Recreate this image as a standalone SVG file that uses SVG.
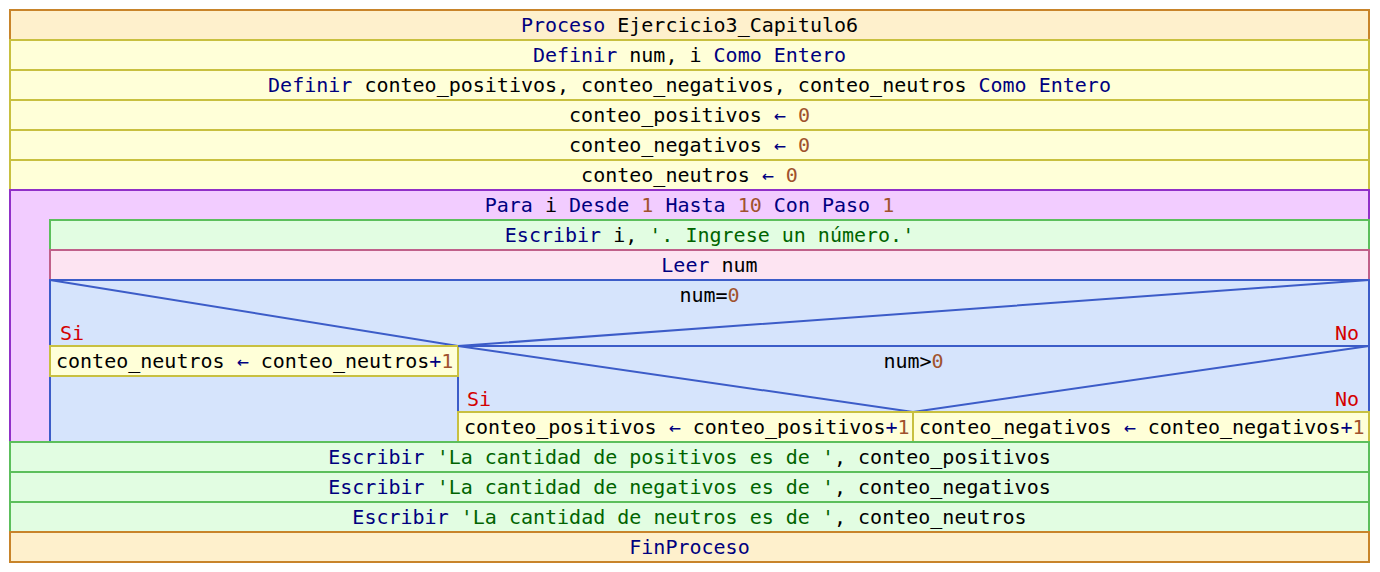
<svg xmlns="http://www.w3.org/2000/svg" width="1380" height="572" viewBox="0 0 1380 572">
<style>
text{font-family:"DejaVu Sans Mono","Liberation Mono",monospace;font-size:20px;fill:#000}
.c{text-anchor:middle}
.k{fill:#00007f}
.n{fill:#a0522d}
.s{fill:#006400}
.r{fill:#d40000}
.proc{fill:#fef0cc;stroke:#c8842a;stroke-width:2}
.asg{fill:#ffffd8;stroke:#c8c040;stroke-width:2}
.para{fill:#f2ccff;stroke:#9030c8;stroke-width:2}
.esc{fill:#e2fde2;stroke:#5cbf5c;stroke-width:2}
.leer{fill:#fde4f2;stroke:#c0608a;stroke-width:2}
.si{fill:#d6e4fc;stroke:#3c5cc8;stroke-width:2}
.dg{stroke:#3c5cc8;stroke-width:2;fill:none}
</style>
<g id="n1"><rect class="proc" x="10" y="10" width="1359" height="30"/><text class="c" x="689.5" y="32"><tspan class="k">Proceso</tspan> Ejercicio3_Capitulo6</text></g>
<g id="n2"><rect class="asg" x="10" y="40" width="1359" height="30"/><text class="c" x="689.5" y="62"><tspan class="k">Definir</tspan> num, i <tspan class="k">Como Entero</tspan></text></g>
<g id="n3"><rect class="asg" x="10" y="70" width="1359" height="30"/><text class="c" x="689.5" y="92"><tspan class="k">Definir</tspan> conteo_positivos, conteo_negativos, conteo_neutros <tspan class="k">Como Entero</tspan></text></g>
<g id="n4"><rect class="asg" x="10" y="100" width="1359" height="30"/><text class="c" x="689.5" y="122">conteo_positivos <tspan class="k">←</tspan> <tspan class="n">0</tspan></text></g>
<g id="n5"><rect class="asg" x="10" y="130" width="1359" height="30"/><text class="c" x="689.5" y="152">conteo_negativos <tspan class="k">←</tspan> <tspan class="n">0</tspan></text></g>
<g id="n6"><rect class="asg" x="10" y="160" width="1359" height="30"/><text class="c" x="689.5" y="182">conteo_neutros <tspan class="k">←</tspan> <tspan class="n">0</tspan></text></g>
<g id="n7"><rect class="para" x="10" y="190" width="1359" height="252"/><text class="c" x="689.5" y="212"><tspan class="k">Para</tspan> i <tspan class="k">Desde</tspan> <tspan class="n">1</tspan> <tspan class="k">Hasta</tspan> <tspan class="n">10</tspan> <tspan class="k">Con Paso</tspan> <tspan class="n">1</tspan></text></g>
<g id="n8"><rect class="esc" x="50" y="220" width="1319" height="30"/><text class="c" x="709.5" y="242"><tspan class="k">Escribir</tspan> i, <tspan class="s">'. Ingrese un número.'</tspan></text></g>
<g id="n9"><rect class="leer" x="50" y="250" width="1319" height="30"/><text class="c" x="709.5" y="272"><tspan class="k">Leer</tspan> num</text></g>
<g id="n10"><rect class="si" x="50" y="280" width="1319" height="162"/><polyline class="dg" points="50,280 458,346 1369,280"/><line class="dg" x1="458" y1="346" x2="1369" y2="346"/><line class="dg" x1="458" y1="346" x2="458" y2="442"/><text class="c" x="709.5" y="302">num=<tspan class="n">0</tspan></text><text class="r" x="60" y="340">Si</text><text class="r" x="1359" y="340" text-anchor="end">No</text></g>
<g id="n11"><rect class="asg" x="50" y="346" width="408" height="30"/><text x="56" y="368">conteo_neutros <tspan class="k">←</tspan> conteo_neutros<tspan class="k">+</tspan><tspan class="n">1</tspan></text></g>
<g id="n12"><polyline class="dg" points="458,346 913,412 1369,346"/><text class="c" x="913.5" y="368">num&gt;<tspan class="n">0</tspan></text><text class="r" x="467" y="406">Si</text><text class="r" x="1359" y="406" text-anchor="end">No</text></g>
<g id="n13"><rect class="asg" x="458" y="412" width="455" height="30"/><text x="464" y="434">conteo_positivos <tspan class="k">←</tspan> conteo_positivos<tspan class="k">+</tspan><tspan class="n">1</tspan></text></g>
<g id="n14"><rect class="asg" x="913" y="412" width="456" height="30"/><text x="919" y="434">conteo_negativos <tspan class="k">←</tspan> conteo_negativos<tspan class="k">+</tspan><tspan class="n">1</tspan></text></g>
<g id="n15"><rect class="esc" x="10" y="442" width="1359" height="30"/><text class="c" x="689.5" y="464"><tspan class="k">Escribir</tspan> <tspan class="s">'La cantidad de positivos es de '</tspan>, conteo_positivos</text></g>
<g id="n16"><rect class="esc" x="10" y="472" width="1359" height="30"/><text class="c" x="689.5" y="494"><tspan class="k">Escribir</tspan> <tspan class="s">'La cantidad de negativos es de '</tspan>, conteo_negativos</text></g>
<g id="n17"><rect class="esc" x="10" y="502" width="1359" height="30"/><text class="c" x="689.5" y="524"><tspan class="k">Escribir</tspan> <tspan class="s">'La cantidad de neutros es de '</tspan>, conteo_neutros</text></g>
<g id="n18"><rect class="proc" x="10" y="532" width="1359" height="30"/><text class="c" x="689.5" y="554"><tspan class="k">FinProceso</tspan></text></g>
</svg>
